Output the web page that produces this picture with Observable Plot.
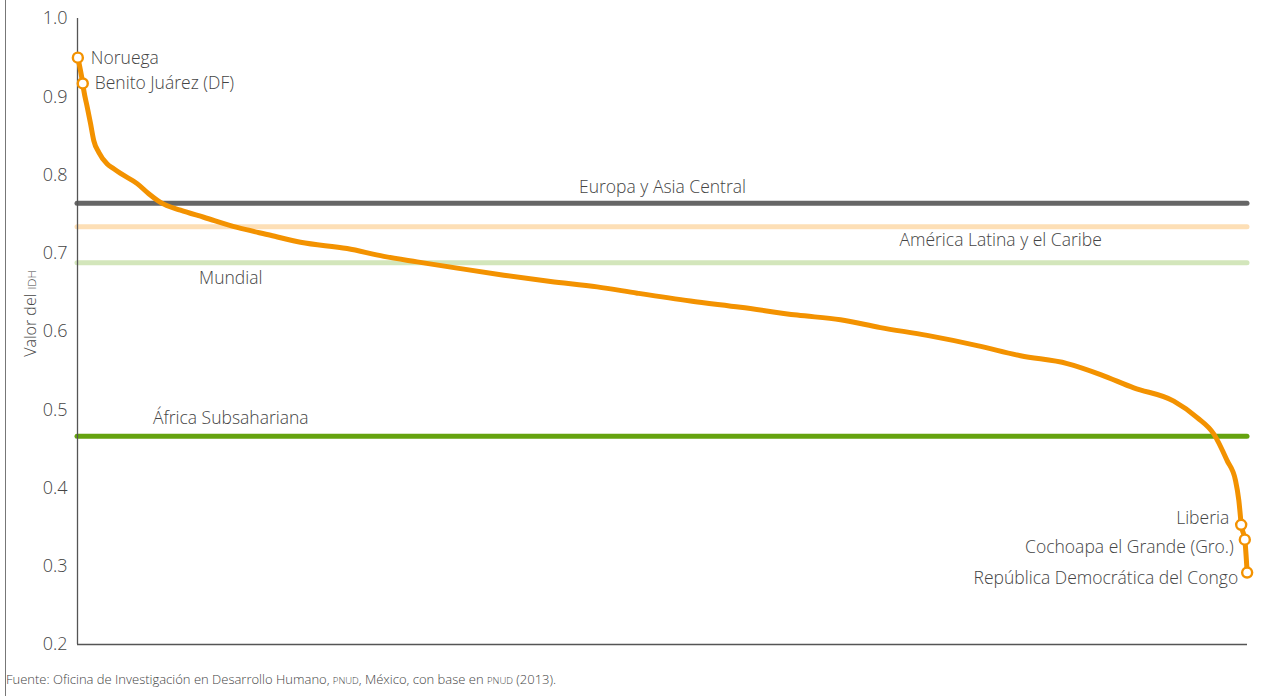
<!DOCTYPE html>
<html>
<head>
<meta charset="utf-8">
<script src="https://cdn.jsdelivr.net/npm/d3@7"></script>
<script src="https://cdn.jsdelivr.net/npm/@observablehq/plot@0.6"></script>
<style>
  html, body { margin: 0; padding: 0; background: #fff; }
  #wrap { position: relative; width: 1262px; height: 696px; overflow: hidden; }
  #frame { position: absolute; left: 5px; top: 0; width: 0; height: 696px; border-left: 1.5px solid #777; }
  #chart { position: absolute; left: 0; top: 0; }
  #caption { position: absolute; left: 6px; top: 670px; font-family: "Open Sans", "Noto Sans", sans-serif; font-weight: 300; font-size: 13px; color: #444; white-space: nowrap; }
  .sc { font-size: 9.5px; }
</style>
</head>
<body>
<div id="wrap">
  <div id="frame"></div>
  <div id="chart"></div>
  <div id="caption">Fuente: Oficina de Investigación en Desarrollo Humano, <span class="sc">PNUD</span>, México, con base en <span class="sc">PNUD</span> (2013).</div>
</div>
<script>
// Posición en el ordenamiento (percentil, 0–100) y valor del IDH
const rankPct = [0.03, 0.45, 0.54, 0.83, 1.11, 1.39, 1.82, 2.54, 3.10, 3.68, 5.10, 6.09, 7.09, 8.80, 10.79, 13.65, 16.50, 19.06, 23.05, 26.18, 29.03, 32.45, 36.44, 40.43, 44.42, 47.84, 52.39, 56.67, 61.51, 65.21, 68.63, 72.62, 76.90, 80.60, 84.59, 87.44, 90.28, 93.70, 95.70, 97.12, 98.26, 98.97, 99.26, 99.40, 99.46, 99.77, 99.97];
const idhValues = [0.950, 0.917, 0.908, 0.887, 0.866, 0.844, 0.829, 0.814, 0.808, 0.802, 0.789, 0.776, 0.765, 0.755, 0.746, 0.733, 0.723, 0.714, 0.706, 0.696, 0.689, 0.681, 0.672, 0.664, 0.657, 0.649, 0.639, 0.631, 0.621, 0.615, 0.605, 0.595, 0.582, 0.569, 0.559, 0.545, 0.528, 0.511, 0.490, 0.469, 0.435, 0.410, 0.384, 0.363, 0.353, 0.334, 0.292];

// Casos destacados
const highlightNames = ["Noruega", "Benito Juárez (DF)", "Liberia", "Cochoapa el Grande (Gro.)", "República Democrática del Congo"];
const highlightRank = [0.03, 0.45, 99.46, 99.77, 99.97];
const highlightIdh = [0.950, 0.917, 0.353, 0.334, 0.292];

// Promedios regionales
const regionNames = ["Europa y Asia Central", "América Latina y el Caribe", "Mundial", "África Subsahariana"];
const regionIdh = [0.764, 0.734, 0.688, 0.466];
const regionColors = ["#666666", "#fddfb6", "#d3e6bb", "#65a30f"];

const yTicks = [0.2, 0.3, 0.4, 0.5, 0.6, 0.7, 0.8, 0.9, 1.0];

const curve = rankPct.map((r, i) => ({rank: r, idh: idhValues[i]}));
const highlights = highlightNames.map((n, i) => ({name: n, rank: highlightRank[i], idh: highlightIdh[i]}));
const regions = regionNames.map((n, i) => ({name: n, idh: regionIdh[i], color: regionColors[i]}));

const font = "'Open Sans', 'Noto Sans', sans-serif";
const txt = "#444";
const fw = 300;
const fs = 17.5;

const plot = Plot.plot({
  width: 1262,
  height: 660,
  marginLeft: 77,
  marginRight: 15,
  marginTop: 18,
  marginBottom: 16,
  style: {fontFamily: font, background: "transparent", overflow: "visible"},
  x: {domain: [0, 100], axis: null},
  y: {domain: [0.2, 1.0], axis: null},
  marks: [
    Plot.ruleY(regions, {y: "idh", stroke: "color", strokeWidth: 5, strokeLinecap: "round"}),
    Plot.ruleX([0], {stroke: "#555", strokeWidth: 1.3}),
    Plot.ruleY([0.2], {stroke: "#555", strokeWidth: 1.3}),
    Plot.axisY({ticks: yTicks, tickSize: 0, tickPadding: 10, tickFormat: d3.format(".1f"), fontSize: 18, fontWeight: fw, fill: txt, label: null}),
    Plot.text(["Valor del IDH"], {frameAnchor: "left", textAnchor: "middle", dx: -47, dy: -18, rotate: -90, fontSize: 16, fontWeight: fw, fill: txt, className: "ylabel"}),
    // etiquetas de promedios
    Plot.text([regions[0]], {x: () => 50.0, y: "idh", text: "name", dy: -16, fontSize: fs, fontWeight: fw, fill: txt}),
    Plot.text([regions[1]], {x: () => 78.9, y: "idh", text: "name", dy: 14, fontSize: fs, fontWeight: fw, fill: txt}),
    Plot.text([regions[2]], {x: () => 13.1, y: "idh", text: "name", dy: 16, fontSize: fs, fontWeight: fw, fill: txt}),
    Plot.text([regions[3]], {x: () => 13.1, y: "idh", text: "name", dy: -18, fontSize: fs, fontWeight: fw, fill: txt}),
    Plot.line(curve, {x: "rank", y: "idh", curve: "monotone-x", stroke: "#f39200", strokeWidth: 5, strokeLinejoin: "round", strokeLinecap: "round"}),
    Plot.dot(highlights, {x: "rank", y: "idh", r: 5, fill: "white", stroke: "#f39200", strokeWidth: 2.4}),
    Plot.text([highlights[0]], {x: "rank", y: "idh", text: "name", textAnchor: "start", dx: 13, dy: 1, fontSize: fs, fontWeight: fw, fill: txt}),
    Plot.text([highlights[1]], {x: "rank", y: "idh", text: "name", textAnchor: "start", dx: 12, dy: 0, fontSize: fs, fontWeight: fw, fill: txt}),
    Plot.text([highlights[2]], {x: "rank", y: "idh", text: "name", textAnchor: "end", dx: -12, dy: -6, fontSize: fs, fontWeight: fw, fill: txt}),
    Plot.text([highlights[3]], {x: "rank", y: "idh", text: "name", textAnchor: "end", dx: -11, dy: 8, fontSize: fs, fontWeight: fw, fill: txt}),
    Plot.text([highlights[4]], {x: "rank", y: "idh", text: "name", textAnchor: "end", dx: -9, dy: 6, fontSize: fs, fontWeight: fw, fill: txt})
  ]
});

// "IDH" en versalitas
d3.select(plot).selectAll(".ylabel text").each(function() {
  const t = d3.select(this);
  t.text(null);
  t.append("tspan").text("Valor del ");
  t.append("tspan").attr("font-size", 11.5).text("IDH");
});

document.getElementById("chart").appendChild(plot);
</script>
</body>
</html>
